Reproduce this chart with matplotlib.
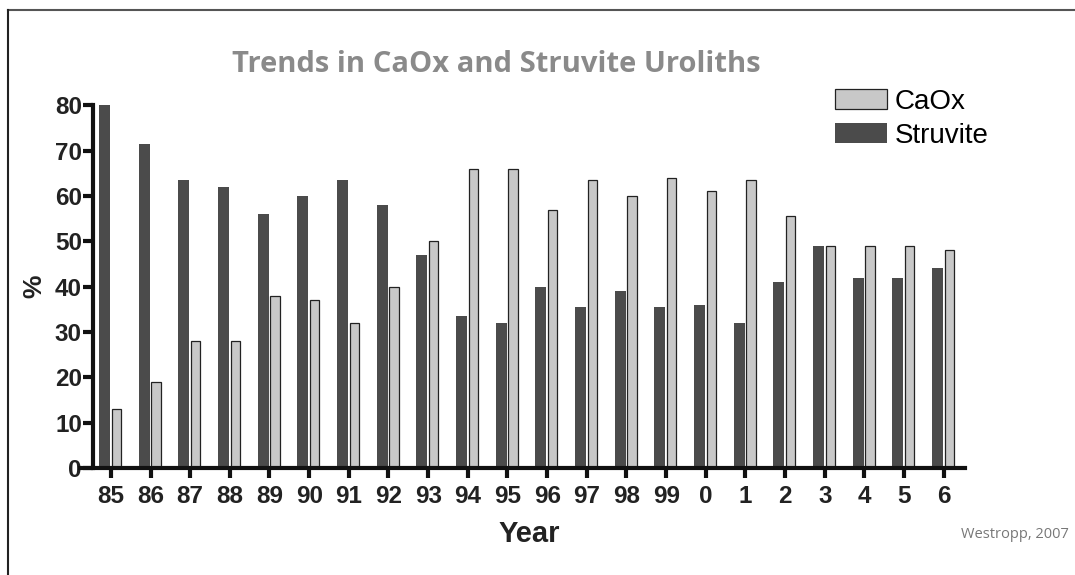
import numpy as np
import matplotlib
matplotlib.use("Agg")
import matplotlib.pyplot as plt
from matplotlib.lines import Line2D

years = ["85", "86", "87", "88", "89", "90", "91", "92", "93", "94", "95",
         "96", "97", "98", "99", "0", "1", "2", "3", "4", "5", "6"]
struvite = [80, 71.5, 63.5, 62, 56, 60, 63.5, 58, 47, 33.5, 32,
            40, 35.5, 39, 35.5, 36, 32, 41, 49, 42, 42, 44]
caox = [13, 19, 28, 28, 38, 37, 32, 40, 50, 66, 66,
        57, 63.5, 60, 64, 61, 63.5, 55.5, 49, 49, 49, 48]
yticks = [0, 10, 20, 30, 40, 50, 60, 70, 80]

DARK = "#4b4b4b"
LIGHT = "#c8c8c8"

plt.rcParams["font.family"] = ["Liberation Sans", "DejaVu Sans"]

fig = plt.figure(figsize=(10.75, 5.75), dpi=100)
fig.set_facecolor("white")
ax = fig.add_axes([0.0865, 0.186, 0.811, 0.631])

x = np.arange(len(years))
ax.bar(x - 0.16, struvite, width=0.28, color=DARK, label="Struvite")
ax.bar(x + 0.14, caox, width=0.24, color=LIGHT, edgecolor="#222222",
       linewidth=0.9, label="CaOx")

ax.set_xlim(-0.45, 21.53)
ax.set_ylim(0, 80)
ax.set_xticks(x)
ax.set_xticklabels(years)
ax.set_yticks(yticks)
for s in ["top", "right"]:
    ax.spines[s].set_visible(False)
for s in ["left", "bottom"]:
    ax.spines[s].set_linewidth(3)
    ax.spines[s].set_color("#111111")
ax.spines["bottom"].set_bounds(-0.78, 21.53)
ax.tick_params(axis="both", width=3, length=7, color="#111111",
               labelsize=17.5, labelcolor="#222222")
ax.tick_params(axis="x", pad=5)
ax.tick_params(axis="y", pad=1)
for lab in ax.get_xticklabels() + ax.get_yticklabels():
    lab.set_fontweight("bold")

ax.set_xlabel("Year", fontsize=21, fontweight="bold", color="#222222", labelpad=9)
ax.set_ylabel("%", fontsize=19, fontweight="bold", color="#222222", labelpad=6)

fig.text(0.462, 0.887, "Trends in CaOx and Struvite Uroliths", family="Open Sans",
         fontsize=21, fontweight="bold", color="#8a8a8a", ha="center", va="center")

handles, labels = ax.get_legend_handles_labels()
ax.legend(handles[::-1], labels[::-1], loc="upper left",
          bbox_to_anchor=(0.7767, 0.846), bbox_transform=fig.transFigure,
          frameon=False, fontsize=20, handlelength=1.87, handleheight=0.72,
          handletextpad=0.29, labelspacing=0.3, borderpad=0, borderaxespad=0)

fig.text(0.994, 0.07, "Westropp, 2007", family="Open Sans", fontsize=10.5,
         color="#777777", ha="right", va="center")

# frame lines (top and left only)
fig.add_artist(Line2D([0.0075, 1.0], [0.983, 0.983], transform=fig.transFigure,
                      color="#555555", lw=1.5))
fig.add_artist(Line2D([0.0075, 0.0075], [0.0, 0.983], transform=fig.transFigure,
                      color="#222222", lw=1.5))

fig.savefig("out.png", dpi=100)
